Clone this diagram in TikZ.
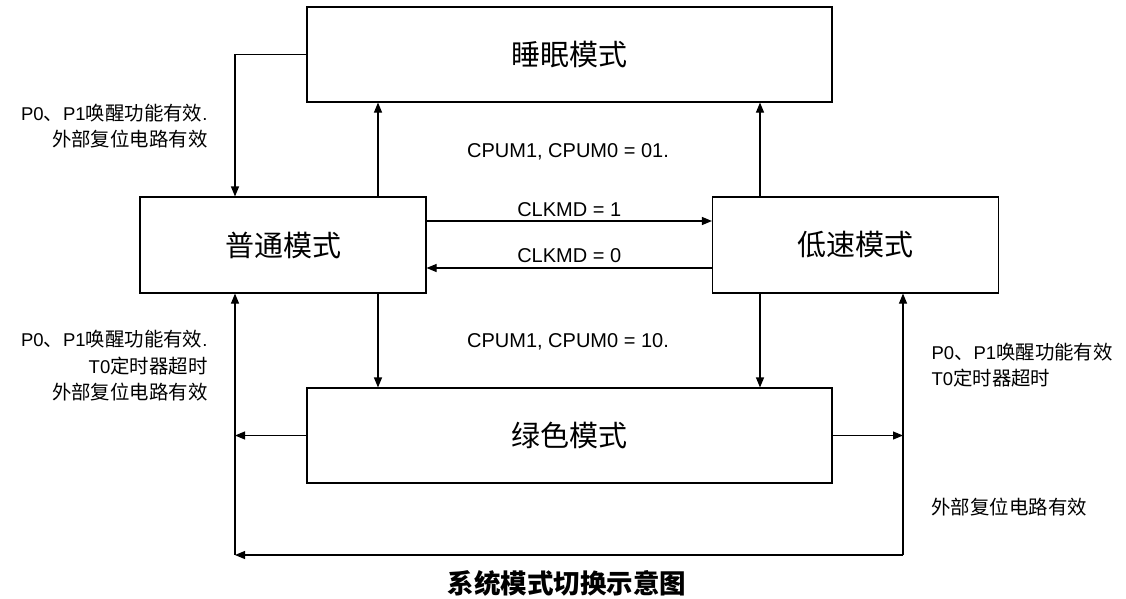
\documentclass[tikz,border=0pt]{standalone}
\usepackage{fontspec}
\setmainfont{Liberation Sans}
\newfontfamily\cjk{Noto Sans CJK SC}
\newfontfamily\cjklabel{Noto Sans CJK SC}[Scale=1.05]
\newcommand{\zh}[1]{{\cjklabel #1}}
\usetikzlibrary{arrows.meta}

\begin{document}
\begin{tikzpicture}[
  x=1pt, y=-1pt,
  line width=1.1pt,
  >={Triangle[length=10pt,width=8pt]},
  mode/.style={rectangle, draw, inner sep=0pt, font=\fontsize{29}{34}\selectfont\cjk},
  widebox/.style={mode, minimum width=525pt, minimum height=95pt},
  narrowbox/.style={mode, minimum width=286pt, minimum height=96pt},
  cond/.style={font=\fontsize{18.5}{26.5}\selectfont, inner sep=0pt},
  reg/.style={font=\fontsize{20}{24}\selectfont, inner sep=0pt},
  node distance=572.5pt
]
\useasboundingbox (0,0) rectangle (1126,598);

\node[narrowbox] (normal) at (283,245) {普通模式};
\node[narrowbox, right of=normal] (slow) {低速模式};
\node[widebox, right of=normal, node distance=286.5pt, yshift=190.5pt] (sleep) {睡眠模式};
\node[widebox, right of=normal, node distance=286.5pt, yshift=-190.5pt] (green) {绿色模式};

\coordinate (ncol) at ([xshift=95pt]normal.center);
\coordinate (scol) at ([xshift=-95.5pt]slow.center);
\coordinate (hi) at ([yshift=24pt]normal.center);
\coordinate (lo) at ([yshift=-23pt]normal.center);
\coordinate (lbus) at (235,555);
\coordinate (rbus) at (903,555);

\node[reg, anchor=base] (cpum_sleep) at (568,157) {CPUM1, CPUM0 = 01.};
\node[reg, anchor=base] (cpum_green) at (568,347) {CPUM1, CPUM0 = 10.};

\node[cond, anchor=east, align=right] (wake_sleep) at (208,126)
  {P0\zh{、}P1\zh{唤醒功能有效}.\\\zh{外部复位电路有效}};
\node[cond, anchor=east, align=right] (wake_normal) at (208,366)
  {P0\zh{、}P1\zh{唤醒功能有效}.\\T0\zh{定时器超时}\\\zh{外部复位电路有效}};
\node[cond, anchor=west, align=left] (wake_slow) at (931,365)
  {P0\zh{、}P1\zh{唤醒功能有效}\\T0\zh{定时器超时}};
\node[cond, anchor=west] (reset_slow) at (931,507) {\zh{外部复位电路有效}};

\node[font=\fontsize{26.5}{30}\selectfont\cjk\bfseries] (title) at (567,583) {系统模式切换示意图};

\draw[->] (sleep.west) -| (lbus |- normal.north);
\draw[->] (ncol |- normal.north) -- (ncol |- sleep.south);
\draw[->] (scol |- slow.north) -- (scol |- sleep.south);
\draw[->] (hi -| normal.east) -- node[reg, above=4pt] {CLKMD = 1} (hi -| slow.west);
\draw[->] (lo -| slow.west) -- node[reg, above=4.5pt] {CLKMD = 0} (lo -| normal.east);
\draw[->] (ncol |- normal.south) -- (ncol |- green.north);
\draw[->] (scol |- slow.south) -- (scol |- green.north);
\draw[->] (green.west) -- (green.west -| lbus);
\draw[->] (green.east) -- (green.east -| rbus);
\draw[->] (lbus) -- (lbus |- normal.south);
\draw[->] (rbus) -- (rbus |- slow.south);
\draw[->] (rbus) -- (lbus);
\end{tikzpicture}
\end{document}
